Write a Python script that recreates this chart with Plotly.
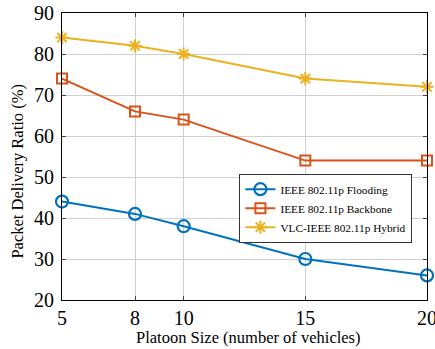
import plotly.graph_objects as go

platoon_sizes = [5, 8, 10, 15, 20]
flooding = [44, 41, 38, 30, 26]
backbone = [74, 66, 64, 54, 54]
hybrid = [84, 82, 80, 74, 72]
series_names = ["IEEE 802.11p Flooding", "IEEE 802.11p Backbone", "VLC-IEEE 802.11p Hybrid"]
y_ticks = [20, 30, 40, 50, 60, 70, 80, 90]
x_title = "Platoon Size (number of vehicles)"
y_title = "Packet Delivery Ratio (%)"

FONT = "Liberation Serif"
fig = go.Figure()
fig.add_trace(go.Scatter(x=platoon_sizes, y=flooding, name=series_names[0], mode="lines+markers",
                         line=dict(color="#0072BD", width=2), cliponaxis=False,
                         marker=dict(symbol="circle-open", size=12, color="#0072BD", line=dict(width=2.2))))
fig.add_trace(go.Scatter(x=platoon_sizes, y=backbone, name=series_names[1], mode="lines+markers",
                         line=dict(color="#D95319", width=2), cliponaxis=False,
                         marker=dict(symbol="square-open", size=10, color="#D95319", line=dict(width=2))))
fig.add_trace(go.Scatter(x=platoon_sizes, y=hybrid, name=series_names[2], mode="lines+markers",
                         line=dict(color="#EDB120", width=2), cliponaxis=False,
                         marker=dict(symbol="asterisk-open", size=11, color="#EDB120", line=dict(width=2))))

fig.update_layout(
    width=435, height=349,
    margin=dict(l=62, r=8, t=13, b=49, autoexpand=False),
    plot_bgcolor="white", paper_bgcolor="white",
    font=dict(family=FONT, color="black"),
    showlegend=True,
    legend=dict(x=0.723, y=0.32, xanchor="center", yanchor="middle",
                bgcolor="white", bordercolor="#333", borderwidth=1,
                font=dict(family=FONT, size=11.3), tracegroupgap=0,
                itemwidth=30),
    annotations=[
        dict(text=x_title, xref="paper", yref="paper", x=0.512, y=-0.132,
             xanchor="center", yanchor="middle", showarrow=False,
             font=dict(size=16.5, family=FONT)),
        dict(text=y_title, xref="paper", yref="paper", x=-0.122, y=0.449,
             xanchor="center", yanchor="middle", showarrow=False, textangle=-90,
             font=dict(size=16.5, family=FONT)),
    ],
)
fig.update_xaxes(range=[5, 20], tickvals=platoon_sizes, ticks="inside", ticklen=4,
                 showline=True, linecolor="black", linewidth=1.2, mirror="ticks",
                 showgrid=True, gridcolor="#d0d0d0", gridwidth=1, zeroline=False,
                 automargin=False, ticklabeloverflow="allow",
                 tickfont=dict(size=20, family=FONT))
fig.update_yaxes(range=[20, 90], tickvals=y_ticks, ticks="inside", ticklen=4,
                 showline=True, linecolor="black", linewidth=1.2, mirror="ticks",
                 showgrid=True, gridcolor="#d0d0d0", gridwidth=1, zeroline=False,
                 automargin=False, ticklabeloverflow="allow", ticklabelstandoff=3,
                 tickfont=dict(size=20, family=FONT))
fig.write_html("out.html", config={"displayModeBar": False},
               post_script="document.body.style.margin='0';")
